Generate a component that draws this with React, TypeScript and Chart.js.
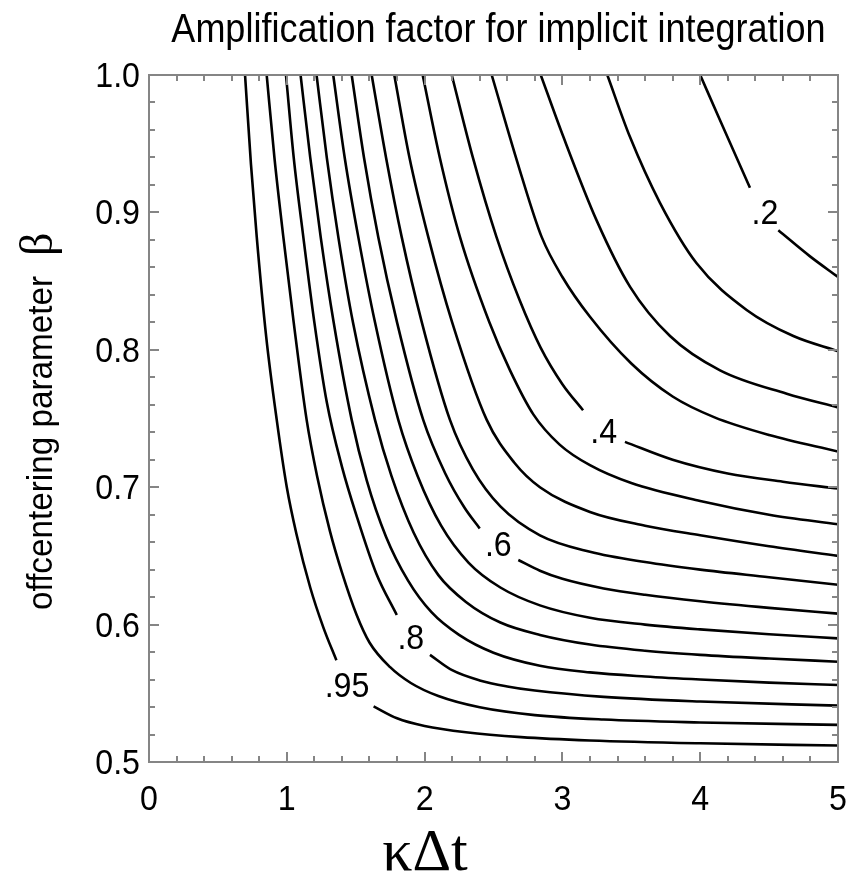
import React, { useEffect, useRef } from "react";
import { Chart, registerables } from "chart.js";

Chart.register(...registerables);

// ---- data: contour lines, [kappa*dt, beta] ----
const xTickValues = [0, 1, 2, 3, 4, 5];
const yTickValues = [0.5, 0.6, 0.7, 0.8, 0.9, 1.0];

const c1a = [[0.697, 1.0], [0.74, 0.935], [0.782, 0.882], [0.85, 0.81], [0.927, 0.749], [1.0, 0.7], [1.07, 0.666], [1.17, 0.627], [1.265, 0.598], [1.36, 0.574]];
const c1b = [[1.63, 0.5405], [1.8, 0.5318], [2.0, 0.5262], [2.3, 0.5216], [2.7, 0.5181], [3.2, 0.5157], [4.0, 0.5136], [5.0, 0.512]];
const c2 = [[0.854, 1.0], [0.91, 0.94], [0.975, 0.882], [1.05, 0.82], [1.144, 0.749], [1.22, 0.708], [1.313, 0.668], [1.4, 0.638], [1.507, 0.607], [1.6, 0.587], [1.75, 0.569], [1.9, 0.5575], [2.1, 0.548], [2.4, 0.5398], [2.8, 0.5341], [3.3, 0.5309], [4.0, 0.5288], [5.0, 0.527]];
const c3a = [[0.994, 1.0], [1.05, 0.94], [1.12, 0.882], [1.2, 0.82], [1.29, 0.762], [1.4, 0.715], [1.507, 0.679], [1.65, 0.637], [1.798, 0.607]];
const c3b = [[2.039, 0.578], [2.2, 0.5668], [2.4, 0.5594], [2.6, 0.555], [2.8, 0.552], [3.3, 0.5474], [4.0, 0.544], [5.0, 0.541]];
const c4 = [[1.1, 1.0], [1.17, 0.94], [1.246, 0.882], [1.34, 0.82], [1.471, 0.749], [1.58, 0.705], [1.72, 0.664], [1.88, 0.632], [2.05, 0.609], [2.25, 0.5925], [2.5, 0.5795], [2.837, 0.57], [3.2, 0.5652], [3.6, 0.5622], [4.0, 0.56], [4.5, 0.5578], [5.0, 0.556]];
const c5 = [[1.216, 1.0], [1.29, 0.94], [1.374, 0.882], [1.48, 0.82], [1.64, 0.749], [1.76, 0.708], [1.92, 0.667], [2.1, 0.636], [2.3, 0.6165], [2.55, 0.6015], [2.837, 0.5925], [3.2, 0.5855], [3.6, 0.581], [4.0, 0.578], [4.5, 0.5753], [5.0, 0.573]];
const c6 = [[1.337, 1.0], [1.42, 0.94], [1.519, 0.882], [1.64, 0.82], [1.809, 0.749], [1.95, 0.708], [2.12, 0.672], [2.32, 0.645], [2.55, 0.627], [2.837, 0.614], [3.2, 0.605], [3.6, 0.6], [4.0, 0.5965], [4.5, 0.593], [5.0, 0.59]];
const c7a = [[1.471, 1.0], [1.56, 0.94], [1.664, 0.882], [1.8, 0.82], [1.99, 0.749], [2.15, 0.71], [2.29, 0.685], [2.4, 0.67]];
const c7b = [[2.68, 0.647], [2.837, 0.6392], [3.0, 0.6333], [3.3, 0.6263], [3.6, 0.6217], [4.0, 0.617], [4.5, 0.6122], [5.0, 0.608]];
const c8 = [[1.616, 1.0], [1.72, 0.94], [1.834, 0.882], [1.98, 0.82], [2.184, 0.749], [2.35, 0.713], [2.55, 0.686], [2.837, 0.665], [3.2, 0.653], [3.6, 0.6455], [4.0, 0.64], [4.5, 0.6345], [5.0, 0.629]];
const c9 = [[1.78, 1.0], [1.89, 0.94], [2.027, 0.882], [2.2, 0.82], [2.451, 0.749], [2.65, 0.718], [2.837, 0.7], [3.2, 0.682], [3.6, 0.672], [4.0, 0.665], [4.5, 0.657], [5.0, 0.65]];
const c10 = [[1.986, 1.0], [2.11, 0.94], [2.257, 0.882], [2.47, 0.82], [2.62, 0.785], [2.789, 0.753], [2.98, 0.731], [3.2, 0.716], [3.5, 0.703], [4.0, 0.69], [4.5, 0.68], [5.0, 0.673]];
const c11a = [[2.197, 1.0], [2.35, 0.94], [2.522, 0.882], [2.69, 0.836], [2.84, 0.802], [3.0, 0.775], [3.15, 0.756]];
const c11b = [[3.454, 0.733], [3.8, 0.72], [4.2, 0.71], [4.6, 0.704], [5.0, 0.699]];
const c12 = [[2.487, 1.0], [2.69, 0.931], [2.85, 0.882], [3.0, 0.853], [3.2, 0.824], [3.5, 0.79], [3.8, 0.766], [4.1, 0.751], [4.5, 0.738], [5.0, 0.726]];
const c13 = [[2.843, 1.0], [3.007, 0.955], [3.249, 0.894], [3.49, 0.846], [3.781, 0.81], [4.144, 0.785], [4.628, 0.768], [5.0, 0.758]];
const c14 = [[3.326, 1.0], [3.49, 0.955], [3.708, 0.907], [3.974, 0.863], [4.337, 0.829], [4.676, 0.81], [5.0, 0.799]];
const c15a = [[4.0, 1.0], [4.144, 0.967], [4.361, 0.918]];
const c15b = [[4.567, 0.887], [4.797, 0.868], [5.0, 0.853]];

const contourSegments = [c1a, c1b, c2, c3a, c3b, c4, c5, c6, c7a, c7b, c8, c9, c10, c11a, c11b, c12, c13, c14, c15a, c15b];

// contour labels
const labelTexts = [".95", ".8", ".6", ".4", ".2"];
const labelX = [1.437, 1.9, 2.535, 3.3, 4.47];
const labelY = [0.556, 0.591, 0.6585, 0.7407, 0.9];

const titleText = "Amplification factor for implicit integration";
const yTitleText = "offcentering parameter";
const yTitleSymbol = "\u03B2";
const xTitleText = "\u03BA\u0394t";

const SANS = "'Liberation Sans', Arial, Helvetica, sans-serif";
const SERIF = "'Liberation Serif', 'Times New Roman', serif";
const SX = 0.92;

function drawText(ctx: CanvasRenderingContext2D, s: string, x: number, y: number, font: string, align: CanvasTextAlign, baseline: CanvasTextBaseline, sx = SX) {
  ctx.save();
  ctx.translate(x, y);
  ctx.scale(sx, 1);
  ctx.font = font;
  ctx.textAlign = align;
  ctx.textBaseline = baseline;
  ctx.fillStyle = "#000";
  ctx.fillText(s, 0, 0);
  ctx.restore();
}

const decorPlugin = {
  id: "decor",
  beforeDraw(chart: any) {
    const ctx = chart.ctx;
    ctx.save();
    ctx.fillStyle = "#fff";
    ctx.fillRect(0, 0, chart.width, chart.height);
    ctx.restore();
  },
  afterDraw(chart: any) {
    const ctx: CanvasRenderingContext2D = chart.ctx;
    const { left, right, top, bottom } = chart.chartArea;
    const xs = chart.scales.x;
    const ys = chart.scales.y;

    // frame
    ctx.save();
    ctx.strokeStyle = "#858585";
    ctx.lineWidth = 2;
    ctx.strokeRect(left, top, right - left, bottom - top);

    // inward ticks on all sides
    const major = 10;
    const minor = 6;
    for (let i = 0; i <= 25; i++) {
      const v = i * 0.2;
      const px = Math.round(xs.getPixelForValue(v));
      const len = i % 5 === 0 ? major : minor;
      ctx.beginPath();
      ctx.moveTo(px, bottom);
      ctx.lineTo(px, bottom - len);
      ctx.moveTo(px, top);
      ctx.lineTo(px, top + len);
      ctx.stroke();
    }
    for (let i = 0; i <= 25; i++) {
      const v = 0.5 + i * 0.02;
      const py = Math.round(ys.getPixelForValue(v));
      const len = i % 5 === 0 ? major : minor;
      ctx.beginPath();
      ctx.moveTo(left, py);
      ctx.lineTo(left + len, py);
      ctx.moveTo(right, py);
      ctx.lineTo(right - len, py);
      ctx.stroke();
    }
    ctx.restore();

    // tick labels
    const tickFont = `35px ${SANS}`;
    xTickValues.forEach((v) => {
      drawText(ctx, String(v), xs.getPixelForValue(v), bottom + 48, tickFont, "center", "alphabetic");
    });
    yTickValues.forEach((v) => {
      drawText(ctx, v.toFixed(1), left - 9, ys.getPixelForValue(v) + 12, tickFont, "right", "alphabetic");
    });

    // contour labels
    const lblFont = `35px ${SANS}`;
    labelTexts.forEach((t, i) => {
      drawText(ctx, t, xs.getPixelForValue(labelX[i]), ys.getPixelForValue(labelY[i]) + 12, lblFont, "center", "alphabetic");
    });

    // title
    drawText(ctx, titleText, (left + right) / 2 + 5, 42, `40px ${SANS}`, "center", "alphabetic", 0.9);

    // x title
    drawText(ctx, xTitleText, 425, 870, `60px ${SERIF}`, "center", "alphabetic", 1);

    // y title (rotated), reading bottom to top
    ctx.save();
    ctx.translate(52, 610);
    ctx.rotate(-Math.PI / 2);
    ctx.fillStyle = "#000";
    ctx.textBaseline = "alphabetic";
    ctx.textAlign = "left";
    ctx.font = `35px ${SANS}`;
    const w1 = ctx.measureText(yTitleText).width;
    const targetLen = 334;
    ctx.save();
    ctx.scale(targetLen / w1, 1);
    ctx.fillText(yTitleText, 0, 0);
    ctx.restore();
    ctx.font = `46px ${SERIF}`;
    ctx.fillText(yTitleSymbol, targetLen + 20, 0);
    ctx.restore();
  },
};

export default function App() {
  const canvasRef = useRef<HTMLCanvasElement | null>(null);

  useEffect(() => {
    const canvas = canvasRef.current;
    if (!canvas) return;
    const datasets = contourSegments.map((seg) => ({
      data: seg.map(([x, y]) => ({ x, y })),
      borderColor: "#000",
      borderWidth: 2.6,
      pointRadius: 0,
      fill: false,
      cubicInterpolationMode: "monotone" as const,
      showLine: true,
    }));
    const chart = new Chart(canvas, {
      type: "scatter",
      data: { datasets },
      options: {
        responsive: false,
        animation: false,
        events: [],
        layout: { padding: { top: 75, right: 16, left: 0, bottom: 0 } },
        plugins: {
          legend: { display: false },
          tooltip: { enabled: false },
          title: { display: false },
        },
        scales: {
          x: {
            type: "linear",
            min: 0,
            max: 5,
            grid: { display: false, drawTicks: false },
            border: { display: false },
            ticks: { display: false },
            afterFit: (s: any) => {
              s.height = 118;
            },
          },
          y: {
            type: "linear",
            min: 0.5,
            max: 1.0,
            grid: { display: false, drawTicks: false },
            border: { display: false },
            ticks: { display: false },
            afterFit: (s: any) => {
              s.width = 149;
            },
          },
        },
      },
      plugins: [decorPlugin],
    });
    return () => chart.destroy();
  }, []);

  return (
    <div style={{ position: "absolute", left: 0, top: 0, width: 854, height: 880, background: "#fff" }}>
      <canvas ref={canvasRef} width={854} height={880} style={{ display: "block" }} />
    </div>
  );
}
